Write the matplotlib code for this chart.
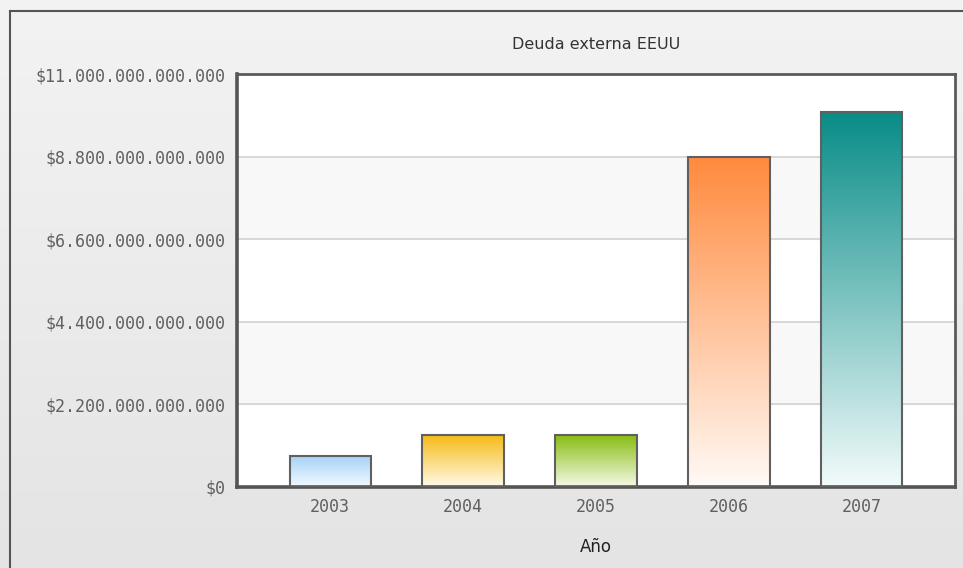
import numpy as np
import matplotlib
matplotlib.use("Agg")
import matplotlib.pyplot as plt
from matplotlib.colors import LinearSegmentedColormap
from matplotlib.ticker import FuncFormatter

# Datos
anios = ["2003", "2004", "2005", "2006", "2007"]
deuda = [0.82e12, 1.38e12, 1.38e12, 8.8e12, 10.0e12]
color_arriba = ["#a6d3f7", "#f6bb17", "#88bd12", "#ff8a3d", "#088c87"]
color_abajo = ["#f4faff", "#fffaea", "#f6fae8", "#fffaf6", "#f2fbfb"]
marcas_y = [0, 2.2e12, 4.4e12, 6.6e12, 8.8e12, 11e12]


def formato_dolar(v, pos):
    return "$" + f"{int(round(v)):,}".replace(",", ".")


fig = plt.figure(figsize=(9.63, 5.68), dpi=100)

# Fondo degradado de la figura
fondo = fig.add_axes([0, 0, 1, 1], zorder=-10)
grad = np.linspace(0, 1, 256).reshape(-1, 1)
cmap_fondo = LinearSegmentedColormap.from_list("f", ["#f3f3f3", "#e4e4e4"])
fondo.imshow(grad, aspect="auto", cmap=cmap_fondo, extent=[0, 963, 568, 0])
fondo.plot([9.5, 9.5], [568, 10.5], color="#555555", lw=1.5)
fondo.plot([9.5, 963], [10.5, 10.5], color="#555555", lw=1.5)
fondo.set_xlim(0, 963)
fondo.set_ylim(568, 0)
fondo.axis("off")

ax = fig.add_axes([237 / 963, 81 / 568, 718 / 963, 413 / 568])
ax.set_facecolor("white")
ax.set_xlim(-0.7, 4.7)
ax.set_ylim(0, 11e12)

# Bandas alternas
for i in range(len(marcas_y) - 1):
    if i % 2 == 1:
        ax.axhspan(marcas_y[i], marcas_y[i + 1], color="#f8f8f8", zorder=0)
for m in marcas_y[1:-1]:
    ax.axhline(m, color="#d2d2d2", lw=1.2, zorder=1)

# Barras con degradado
x = np.arange(len(anios))
barras = ax.bar(x, deuda, width=0.61, facecolor="none",
                edgecolor="#606060", linewidth=1.5, zorder=3)
for b, c1, c2 in zip(barras, color_arriba, color_abajo):
    cm = LinearSegmentedColormap.from_list("b", [c2, c1])
    x0, y0 = b.get_x(), b.get_y()
    img = ax.imshow(grad, aspect="auto", cmap=cm, origin="lower",
                    extent=[x0, x0 + b.get_width(), y0, y0 + b.get_height()],
                    zorder=2)
    img.set_clip_path(b)
ax.set_xlim(-0.7, 4.7)
ax.set_ylim(0, 11e12)

ax.set_xticks(x)
ax.set_xticklabels(anios)
ax.set_yticks(marcas_y)
ax.yaxis.set_major_formatter(FuncFormatter(formato_dolar))
ax.tick_params(length=0, labelsize=12, labelcolor="#606060", pad=8)
for lab in ax.get_xticklabels() + ax.get_yticklabels():
    lab.set_fontfamily("DejaVu Sans Mono")

for lado in ["top", "right"]:
    ax.spines[lado].set_color("#5a5a5a")
    ax.spines[lado].set_linewidth(2)
for lado in ["left", "bottom"]:
    ax.spines[lado].set_color("#555555")
    ax.spines[lado].set_linewidth(2.6)

ax.set_title("Deuda externa EEUU", fontsize=11.5, color="#333333", pad=18)
ax.set_xlabel("Año", fontsize=12, color="#222222", labelpad=16)

plt.savefig("out.png", dpi=100)
